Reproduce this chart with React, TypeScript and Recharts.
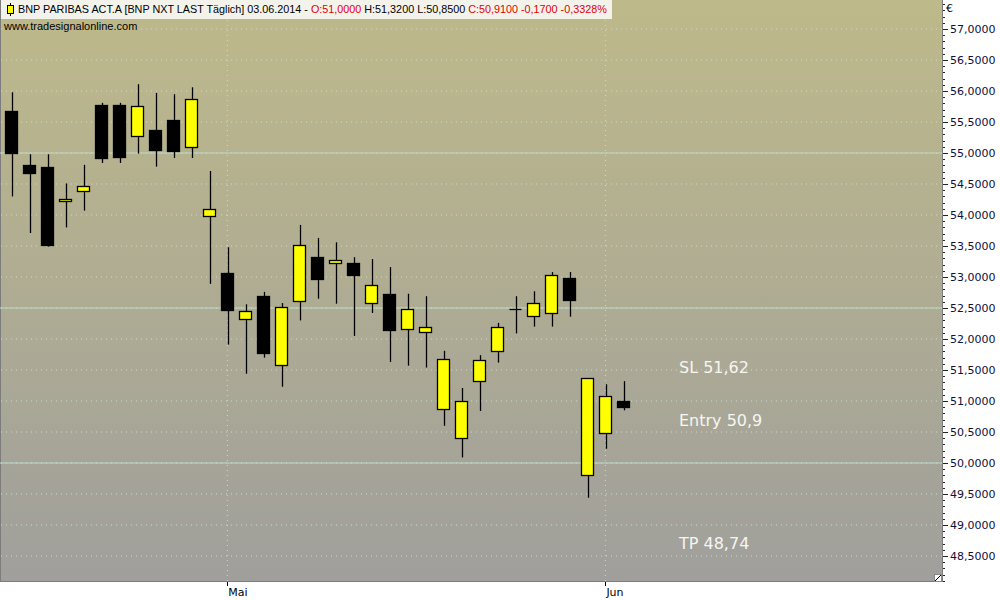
import React from "react";
import {
  ComposedChart,
  Bar,
  XAxis,
  YAxis,
  ReferenceLine,
} from "recharts";

// trading days shown (Euronext, Apr 11 - Jun 3 2014)
const dates = [
  "2014-04-11", "2014-04-14", "2014-04-15", "2014-04-16", "2014-04-17",
  "2014-04-22", "2014-04-23", "2014-04-24", "2014-04-25", "2014-04-28",
  "2014-04-29", "2014-04-30", "2014-05-02", "2014-05-05", "2014-05-06",
  "2014-05-07", "2014-05-08", "2014-05-09", "2014-05-12", "2014-05-13",
  "2014-05-14", "2014-05-15", "2014-05-16", "2014-05-19", "2014-05-20",
  "2014-05-21", "2014-05-22", "2014-05-23", "2014-05-26", "2014-05-27",
  "2014-05-28", "2014-05-29", "2014-05-30", "2014-06-02", "2014-06-03",
];

const opens = [
  55.68, 54.81, 54.77, 54.22, 54.38, 55.77, 55.77, 55.27, 55.37, 55.53,
  55.09, 53.98, 53.06, 52.33, 52.69, 51.58, 52.61, 53.32, 53.22, 53.22,
  52.58, 52.72, 52.16, 52.12, 50.87, 50.4, 51.32, 51.8, 52.48, 52.37,
  52.42, 52.98, 49.8, 50.48, 51.0,
];
const highs = [
  55.98, 54.98, 54.98, 54.51, 54.81, 55.81, 55.81, 56.11, 55.97, 55.95,
  56.06, 54.71, 53.48, 52.56, 52.76, 52.58, 53.84, 53.63, 53.56, 53.32,
  53.29, 53.16, 52.73, 52.69, 51.81, 51.21, 51.74, 52.26, 52.69, 52.77,
  53.08, 53.08, 51.37, 51.27, 51.32,
];
const lows = [
  54.3, 53.71, 53.49, 53.8, 54.07, 54.84, 54.84, 54.99, 54.78, 54.92,
  54.92, 52.89, 51.91, 51.44, 51.7, 51.23, 52.3, 52.65, 52.57, 52.05,
  52.42, 51.63, 51.57, 51.54, 50.6, 50.09, 50.84, 51.62, 52.09, 52.2,
  52.2, 52.36, 49.44, 50.23, 50.85,
];
const closes = [
  55.0, 54.67, 53.52, 54.26, 54.46, 54.92, 54.93, 55.76, 55.05, 55.04,
  55.87, 54.09, 52.46, 52.45, 51.78, 52.52, 53.51, 52.96, 53.27, 53.04,
  52.87, 52.15, 52.48, 52.19, 51.67, 51.0, 51.66, 52.2, 52.48, 52.58,
  53.04, 52.63, 51.37, 51.08, 50.91,
];

const priceTicks = [
  48.5, 49, 49.5, 50, 50.5, 51, 51.5, 52, 52.5, 53, 53.5, 54, 54.5, 55,
  55.5, 56, 56.5, 57,
];
const solidLevels = [55, 52.5, 50];
const monthStarts = ["2014-05-02", "2014-06-02"];
const monthLabels = ["Mai", "Jun"];

const annotations = [
  { text: "SL 51,62", price: 51.62, dy: 10 },
  { text: "Entry 50,9", price: 50.9, dy: 19 },
  { text: "TP 48,74", price: 48.74, dy: 8 },
];

const data = dates.map((date, i) => ({
  i,
  date,
  open: opens[i],
  high: highs[i],
  low: lows[i],
  close: closes[i],
  range: [lows[i], highs[i]],
}));

const minorTicks: number[] = [];
for (let k = 481; k <= 574; k++) minorTicks.push(k / 10);

const X_DOMAIN = [-0.63, 51.7];
const Y_DOMAIN = [48.097, 57.468];

const isMajor = (v: number) => Math.abs(v * 2 - Math.round(v * 2)) < 1e-6;
const fmt = (v: number) => v.toFixed(4).replace(".", ",");

function Candle(props: any) {
  const { x, y, width, height, payload } = props;
  if (x == null || y == null) return null;
  const { open, close, high, low } = payload;
  const top = Math.min(y, y + height);
  const h = Math.abs(height);
  const ratio = h / (high - low);
  const yOf = (v: number) => top + (high - v) * ratio;
  const cx = Math.round(x + width / 2) + 0.5;
  const bTop = Math.round(yOf(Math.max(open, close))) + 0.5;
  const bBot = Math.round(yOf(Math.min(open, close))) + 0.5;
  const left = Math.round(x) + 0.5;
  const w = Math.round(width) - 1;
  const up = close >= open;
  return (
    <g>
      <line x1={cx} x2={cx} y1={top} y2={top + h} stroke="#000" strokeWidth={1.3} />
      {bBot - bTop < 1 ? (
        <line x1={left} x2={left + w} y1={bTop} y2={bTop} stroke="#000" strokeWidth={1.3} />
      ) : (
        <rect
          x={left}
          y={bTop}
          width={w}
          height={bBot - bTop}
          fill={up ? "#ffff00" : "#000000"}
          stroke="#000"
          strokeWidth={1.3}
        />
      )}
    </g>
  );
}

function PriceTick(props: any) {
  const { x, y, payload } = props;
  const v = payload.value;
  const yy = Math.round(y) + 0.5;
  if (!isMajor(v)) {
    return <line x1={x + 1} x2={x + 3} y1={yy} y2={yy} stroke="#222" />;
  }
  return (
    <g>
      <line x1={x + 1} x2={x + 6} y1={yy} y2={yy} stroke="#222" />
      <text
        x={x + 8}
        y={y + 4}
        fontSize={11}
        fontFamily="DejaVu Sans"
        fill="#10103a"
      >
        {fmt(v)}
      </text>
    </g>
  );
}

function MonthTick(props: any) {
  const { x, y, payload } = props;
  const idx = monthStarts.map((d) => dates.indexOf(d)).indexOf(payload.value);
  const xx = Math.round(x) + 0.5;
  return (
    <g>
      <line x1={xx} x2={xx} y1={y + 1} y2={y + 5} stroke="#000" />
      <text x={x + 1} y={y + 15} fontSize={11} fontFamily="DejaVu Sans" fill="#000">
        {monthLabels[idx]}
      </text>
    </g>
  );
}

function AnnotationLabel({ viewBox, text, dy }: any) {
  return (
    <text
      x={viewBox.x + 679}
      y={viewBox.y + dy}
      fontSize={16}
      fontFamily="DejaVu Sans"
      fill="#f6f6f2"
    >
      {text}
    </text>
  );
}

// shared axes; `labels` turns tick drawing on/off
function axes(labels: boolean) {
  return [
    <XAxis
      key="x"
      dataKey="i"
      type="number"
      domain={X_DOMAIN}
      allowDataOverflow
      ticks={monthStarts.map((d) => dates.indexOf(d))}
      interval={0}
      height={19}
      axisLine={false}
      tickLine={false}
      tickSize={0}
      tickMargin={0}
      tick={labels ? <MonthTick /> : false}
    />,
    <YAxis
      key="y"
      orientation="right"
      type="number"
      domain={Y_DOMAIN}
      allowDataOverflow
      ticks={minorTicks}
      interval={0}
      width={58}
      axisLine={false}
      tickLine={false}
      tickSize={0}
      tickMargin={0}
      tick={labels ? <PriceTick /> : false}
    />,
  ];
}

const layer: React.CSSProperties = { position: "absolute", left: 0, top: 0 };
const MARGIN = { top: 0, right: 0, bottom: 0, left: 0 };

export default function App() {
  return (
    <div
      style={{
        position: "absolute",
        left: 0,
        top: 0,
        width: 1000,
        height: 600,
        overflow: "hidden",
        background: "#ffffff",
        fontFamily: "Liberation Sans",
      }}
    >
      {/* plot background */}
      <div
        style={{
          position: "absolute",
          left: 0,
          top: 0,
          width: 943,
          height: 582,
          boxSizing: "border-box",
          borderLeft: "1px solid #7c7c7c",
          borderRight: "1px solid #7c7c7c",
          borderBottom: "1px solid #7c7c7c",
          background: "linear-gradient(#beb98a, #afac93 50%, #a09f9c)",
        }}
      />
      {/* grid layer, drawn under the candles */}
      <div style={layer}>
        <ComposedChart width={1000} height={600} data={data} margin={MARGIN}>
          {axes(false)}
          {priceTicks.map((v) => (
            <ReferenceLine key={"g" + v} y={v} stroke="#c4ddd2" strokeDasharray="1 4" />
          ))}
          {monthStarts.map((d) => (
            <ReferenceLine
              key={"m" + d}
              x={dates.indexOf(d)}
              stroke="#c4ddd2"
              strokeDasharray="1 4"
            />
          ))}
          {solidLevels.map((v) => (
            <ReferenceLine key={"s" + v} y={v} stroke="#bcd9cb" />
          ))}
        </ComposedChart>
      </div>
      {/* candles, axes and annotations */}
      <div style={layer}>
        <ComposedChart width={1000} height={600} data={data} margin={MARGIN}>
          {axes(true)}
          <Bar
            dataKey="range"
            barSize={13}
            shape={<Candle />}
            isAnimationActive={false}
          />
          {annotations.map((a) => (
            <ReferenceLine
              key={a.text}
              y={a.price}
              stroke="none"
              label={(p: any) => <AnnotationLabel {...p} text={a.text} dy={a.dy} />}
            />
          ))}
        </ComposedChart>
      </div>

      {/* header box */}
      <div
        style={{
          position: "absolute",
          left: 1,
          top: 0,
          width: 611,
          height: 19,
          background: "#f3f3ec",
          fontSize: 10.8,
          lineHeight: "19px",
          whiteSpace: "nowrap",
          color: "#000",
        }}
      >
        <svg width={14} height={19} style={{ position: "absolute", left: 2, top: 0 }}>
          <line x1={7.5} x2={7.5} y1={3} y2={16} stroke="#000" />
          <rect x={4.5} y={5.5} width={6} height={8} fill="#ffff00" stroke="#000" />
        </svg>
        <span style={{ position: "absolute", left: 17 }}>
          BNP PARIBAS ACT.A [BNP NXT LAST Täglich] 03.06.2014 -{" "}
          <span style={{ color: "#e00000" }}>O:51,0000</span> H:51,3200 L:50,8500{" "}
          <span style={{ color: "#e00000" }}>C:50,9100 -0,1700 -0,3328%</span>
        </span>
      </div>
      <div
        style={{
          position: "absolute",
          left: 4,
          top: 20,
          fontSize: 11,
          color: "#000",
        }}
      >
        www.tradesignalonline.com
      </div>
      <div
        style={{
          position: "absolute",
          left: 946,
          top: 2,
          fontSize: 11,
          fontFamily: "DejaVu Sans",
          color: "#000",
        }}
      >
        €
      </div>
      <svg
        width={8}
        height={8}
        style={{ position: "absolute", left: 934, top: 574 }}
      >
        <rect x={0.5} y={0.5} width={7} height={7} fill="#fff" stroke="#888" />
        <line x1={1} y1={7} x2={7} y2={1} stroke="#000" />
      </svg>
    </div>
  );
}
